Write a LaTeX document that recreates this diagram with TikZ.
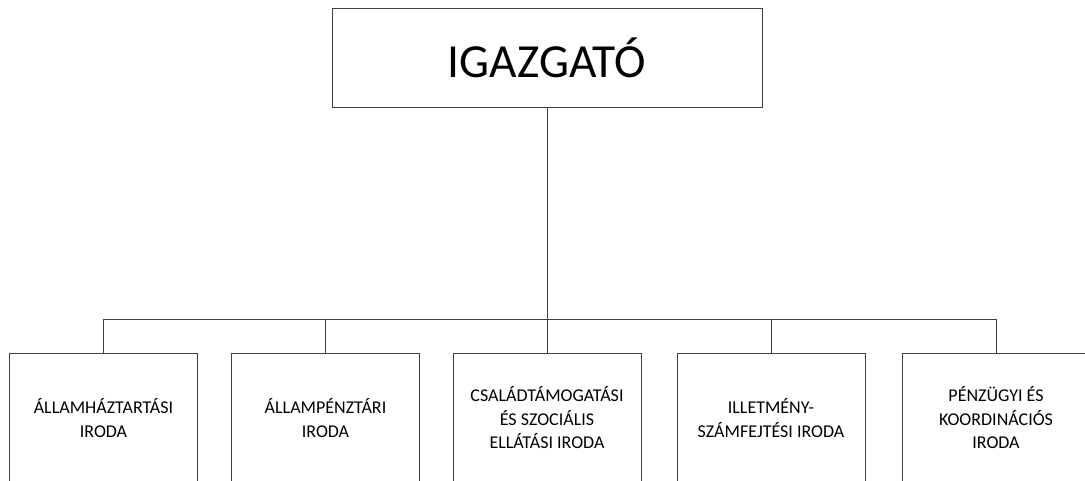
\documentclass[tikz,border=0pt]{standalone}
\usepackage{fontspec}
\setmainfont{Carlito}
\definecolor{linec}{HTML}{404040}
\begin{document}
\begin{tikzpicture}[x=1pt,y=-1pt,
  box/.style={draw=linec,line width=0.9pt,fill=white,inner sep=0pt,align=center,text=black},
  topbox/.style={box,minimum width=430pt,minimum height=99pt,font=\fontsize{47.5}{50}\selectfont},
  unit/.style={box,minimum width=188pt,minimum height=130pt,font=\fontsize{18}{23.5}\selectfont},
  conn/.style={draw=linec,line width=0.9pt}]
\useasboundingbox (0,0) rectangle (1085,480);
\clip (0,0) rectangle (1085,480);
\node[topbox] (top) at (547,57.5) {IGAZGATÓ};
\coordinate (bus) at (547,319);
\node[unit] (b1) at (103.5,418) {ÁLLAMHÁZTARTÁSI\\IRODA};
\node[unit] (b2) at (325.5,418) {ÁLLAMPÉNZTÁRI\\IRODA};
\node[unit] (b3) at (547,418) {CSALÁDTÁMOGATÁSI\\ÉS SZOCIÁLIS\\ELLÁTÁSI IRODA};
\node[unit] (b4) at (771,418) {ILLETMÉNY-\\SZÁMFEJTÉSI IRODA};
\node[unit] (b5) at (996,418) {PÉNZÜGYI ÉS\\KOORDINÁCIÓS\\IRODA};
\draw[conn] (top.south) -- (bus);
\draw[conn] (b1.north) -- (b1.north |- bus) -- (b5.north |- bus) -- (b5.north);
\draw[conn] (b2.north) -- (b2.north |- bus);
\draw[conn] (b3.north) -- (b3.north |- bus);
\draw[conn] (b4.north) -- (b4.north |- bus);
\end{tikzpicture}
\end{document}
